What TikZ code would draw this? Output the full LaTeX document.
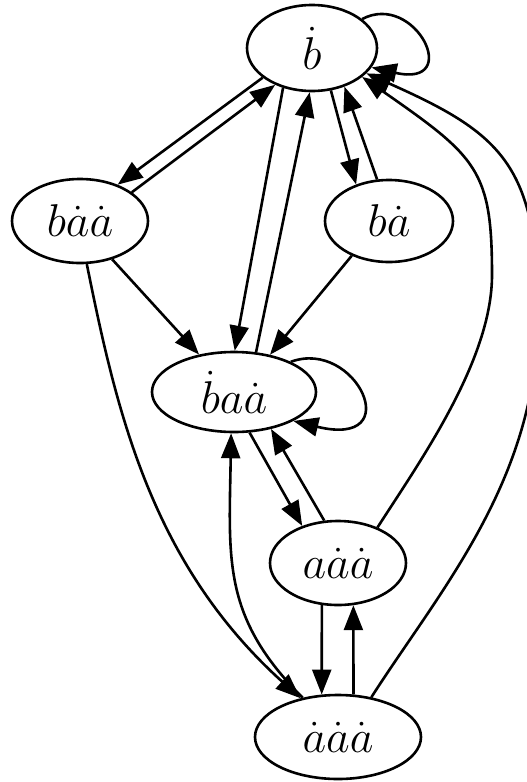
\RequirePackage{fix-cm}
\documentclass[tikz,border=0pt]{standalone}
\usetikzlibrary{arrows.meta,shapes.geometric}
\begin{document}
\begin{tikzpicture}[x=1pt,y=-1pt,
  stnode/.style={ellipse,draw,line width=2.6pt,inner sep=0pt,
    font=\fontsize{46}{50}\selectfont},
  conn/.style={line width=2.6pt,-{Triangle[length=25pt,width=19pt]}},
]
\clip (0,0) rectangle (527,782);

% states
\node[stnode,minimum width=130pt,minimum height=86pt] (b)   at (312,48)  {$\dot{b}$};
\node[stnode,minimum width=136pt,minimum height=84pt] (baa) at (80,221)  {$b\dot{a}\dot{a}$};
\node[stnode,minimum width=128pt,minimum height=82pt] (ba)  at (389,221) {$b\dot{a}$};
\node[stnode,minimum width=164pt,minimum height=80pt] (mid) at (234,392) {$\dot{b}a\dot{a}$};
\node[stnode,minimum width=136pt,minimum height=84pt] (low) at (338,563) {$a\dot{a}\dot{a}$};
\node[stnode,minimum width=166pt,minimum height=84pt] (bot) at (338,737) {$\dot{a}\dot{a}\dot{a}$};

% turning points of the two long arcs on the right
\coordinate (m17) at (492,275);
\coordinate (m18) at (538,315);

% transitions
\draw[conn] (b.211) -- (baa.44);
\draw[conn] (baa.29) -- (b.225);
\draw[conn] (b.234) -- (mid.89);
\draw[conn] (mid.61) -- (b.267);
\draw[conn] (b.294) -- (ba.132);
\draw[conn] (ba.106) -- (b.310);
\draw[conn] (b.30) .. controls +(53,-28) and +(92,21) .. (b.-18);
\draw[conn] (baa.-50) -- (mid.133);
\draw[conn] (ba.223) -- (mid.46);
\draw[conn] (baa.279) .. controls (117,414) and (152,564) .. (bot.134);
\draw[conn] (mid.28) .. controls +(65,-24) and +(115,28) .. (mid.-26);
\draw[conn] (mid.291) -- (low.134);
\draw[conn] (low.108) -- (mid.315);
\draw[conn] (bot.132) .. controls (222,617) and (229,560) .. (mid.266);
\draw[conn] (low.249) -- (bot.111);
\draw[conn] (bot.70) -- (low.290);
\draw[conn] (low.42) .. controls +(43,-67) and +(0,85) .. (m17)
                     .. controls +(0,-105) and +(115,80) .. (b.-30);
\draw[conn] (bot.50) .. controls (440,590) and (538,480) .. (m18)
                     .. controls +(0,-150) and +(135,60) .. (b.-25);
\end{tikzpicture}
\end{document}
